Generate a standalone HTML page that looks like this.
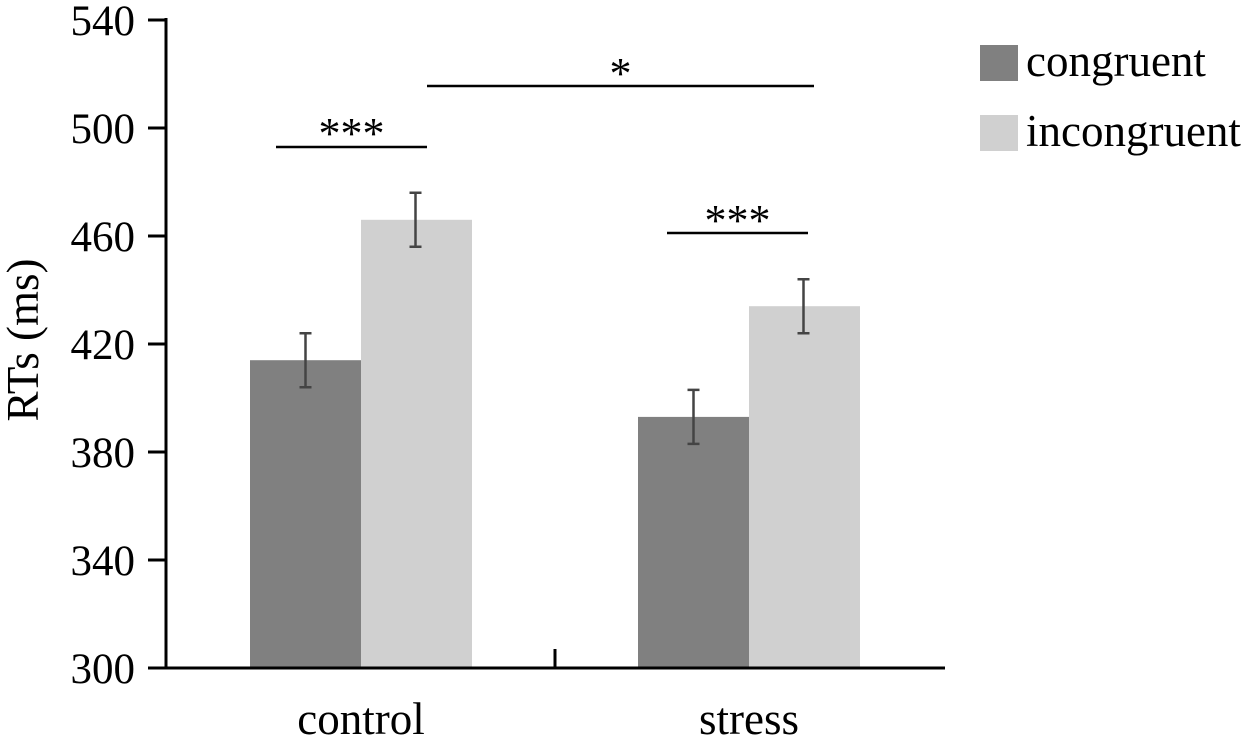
<!DOCTYPE html>
<html><head><meta charset="utf-8"><style>
body{margin:0;background:#fff}
svg text{font-family:"Liberation Serif",serif;fill:#000}
</style></head><body>
<svg width="1250" height="743">
<g id="plot"></g>
</svg>
<script>
const categories=["control","stress"];
const series=["congruent","incongruent"];
const congruent=[414,393];
const incongruent=[466,434];
const congruentErr=[10,10];
const incongruentErr=[10,10];
const yTicks=[300,340,380,420,460,500,540];
const NS="http://www.w3.org/2000/svg";
const g=document.getElementById('plot');
function y(v){return 668-(v-300)*2.7;}
function mk(t,a,txt){const e=document.createElementNS(NS,t);for(const k in a)e.setAttribute(k,a[k]);if(txt!==undefined)e.textContent=txt;g.appendChild(e);return e;}
const colors=["#808080","#d0d0d0"];
const groupX=[250,638];const bw=111;
const vals=[congruent,incongruent],errs=[congruentErr,incongruentErr];
for(let c=0;c<categories.length;c++){
 for(let s=0;s<2;s++){
  const x0=groupX[c]+s*bw,v=vals[s][c];
  const r=mk('rect',{x:x0,y:y(v),width:bw,height:668-y(v),fill:colors[s]});
  
  
  const cx=x0+bw/2+(s===0?0:-1),e=errs[s][c];
  const eb=mk('path',{d:`M${cx},${y(v+e)}V${y(v-e)}M${cx-6},${y(v+e)}H${cx+6}M${cx-6},${y(v-e)}H${cx+6}`,stroke:"#444","stroke-width":2.5,fill:"none"});
  
  
 }
 const t=mk('text',{x:groupX[c]+bw,y:734,"font-size":45,"text-anchor":"middle"},categories[c]);
 
 
}
const ax=mk('path',{d:"M166,18V668M148,668H945M555,668V649",stroke:"#000","stroke-width":3,fill:"none"});


for(const v of yTicks){
 const tk=mk('path',{d:`M148,${y(v)}H166`,stroke:"#000","stroke-width":3});
 
 
 const tl=mk('text',{x:135,y:y(v)+15,"font-size":43,"text-anchor":"end"},v);
 
 
}
const yt=mk('text',{x:0,y:0,"font-size":45,"text-anchor":"middle",transform:"translate(38,340) rotate(-90)"},"RTs (ms)");


const sig=[[276,427,147,"***",132],[427,814,86,"*",72],[667,808,233,"***",219]];
for(const s of sig){
 const l=mk('path',{d:`M${s[0]},${s[2]}H${s[1]}`,stroke:"#000","stroke-width":2.5});
 
 
 const t=mk('text',{x:(s[0]+s[1])/2,y:s[4]+16,"font-size":44,"text-anchor":"middle"},s[3]);
 
 
}
for(let s=0;s<2;s++){
 const r=mk('rect',{x:980,y:45+s*70,width:38,height:36,fill:colors[s]});
 
 
 const t=mk('text',{x:1026,y:76+s*70,"font-size":45},series[s]);
 
 
}
</script>
</body></html>
